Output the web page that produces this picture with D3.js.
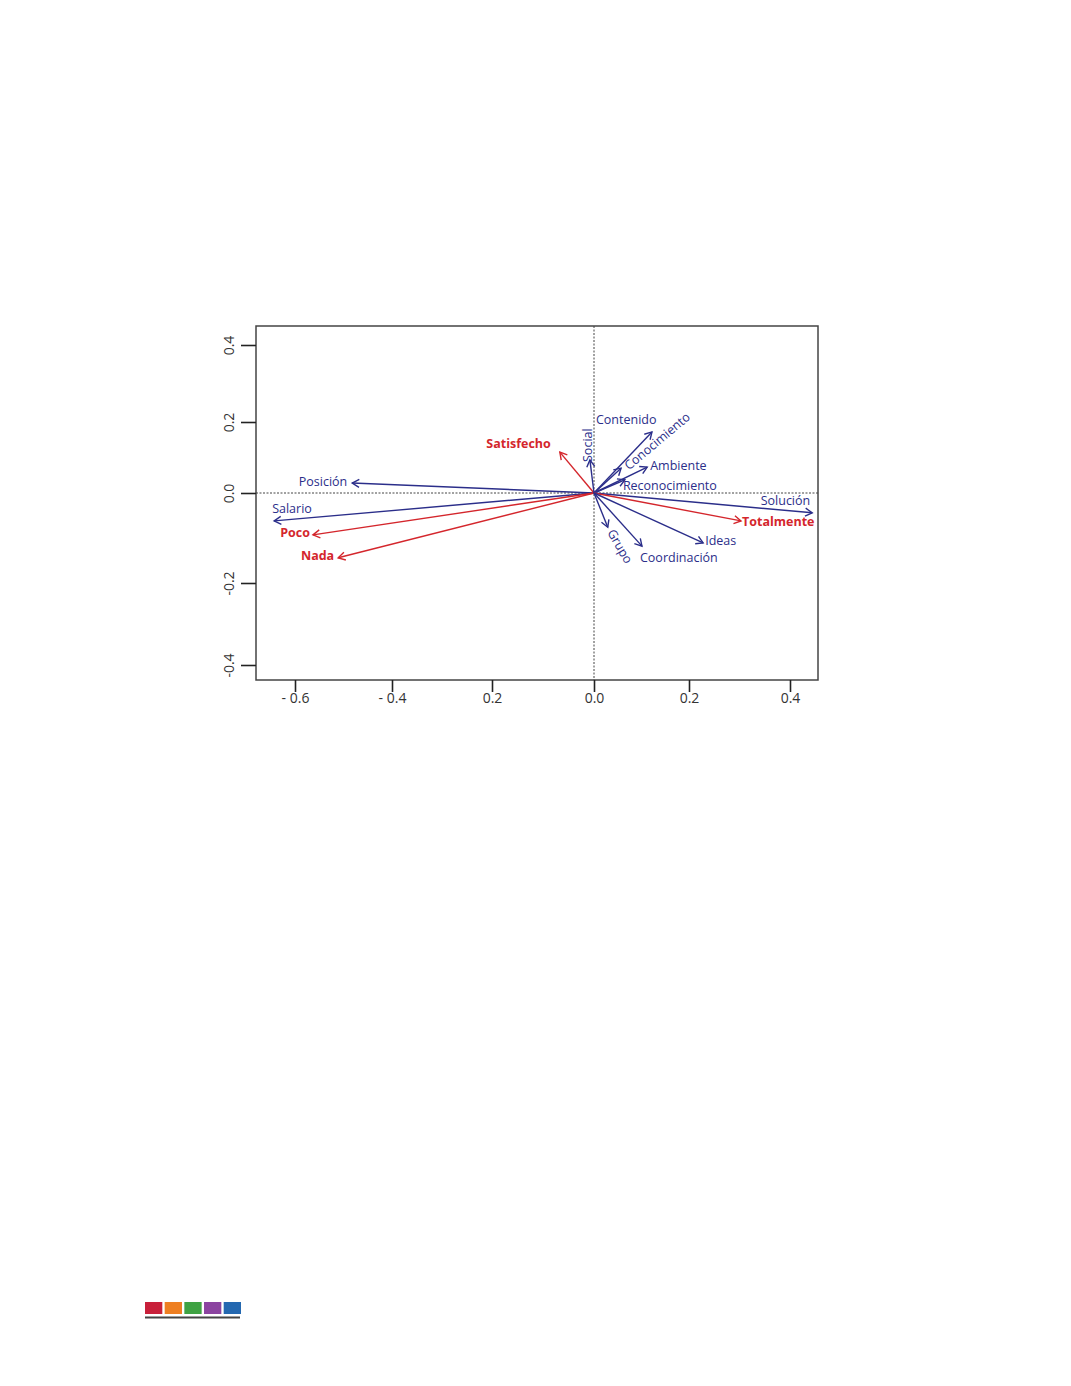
<!DOCTYPE html>
<html>
<head>
<meta charset="utf-8">
<script src="https://cdnjs.cloudflare.com/ajax/libs/d3/7.8.5/d3.min.js"></script>
<style>
  html, body { margin: 0; padding: 0; background: #fff; }
  svg { display: block; }
</style>
</head>
<body>
<svg id="chart" width="1071" height="1386"></svg>
<script>
// ---------- data ----------
const variables = ["Posición","Salario","Satisfecho","Poco","Nada","Social","Contenido","Conocimiento","Ambiente","Reconocimiento","Solución","Totalmente","Ideas","Coordinación","Grupo"];
const xValues   = [-0.482, -0.643, -0.067, -0.563, -0.511, -0.008, 0.122, 0.057, 0.112, 0.065, 0.444, 0.303, 0.228, 0.101, 0.029];
const yValues   = [ 0.028, -0.062,  0.115, -0.093, -0.144,  0.093, 0.172, 0.070, 0.073, 0.037, -0.044, -0.062, -0.111, -0.118, -0.076];
const groups    = ["v","v","c","c","c","v","v","v","v","v","v","c","v","v","v"]; // v = variable, c = category

const xTickValues = [-0.6, -0.4, -0.2, 0.0, 0.2, 0.4];
const xTickLabels = ["- 0.6", "- 0.4", "0.2", "0.0", "0.2", "0.4"];
const yTickValues = [-0.4, -0.2, 0.0, 0.2, 0.4];
const yTickLabels = ["-0.4", "-0.2", "0.0", "0.2", "0.4"];

const paletteBar = ["#c8203a", "#ee7f22", "#3fa243", "#8b44a0", "#2468b0"];

// ---------- label placement (style) ----------
const labelStyle = {
  "Posición":       {anchor:"end",   dx:-5, dy:-2,  rot:0},
  "Salario":        {anchor:"start", dx:-2, dy:-12, rot:0},
  "Satisfecho":     {anchor:"end",   dx:-9, dy:-9,  rot:0},
  "Poco":           {anchor:"end",   dx:-3, dy:-2,  rot:0},
  "Nada":           {anchor:"end",   dx:-4, dy:-2,  rot:0},
  "Social":         {anchor:"start", dx:-2, dy:2,   rot:-90},
  "Contenido":      {anchor:"start", dx:-56,dy:-12, rot:0},
  "Conocimiento":   {anchor:"start", dx:5,  dy:-1,  rot:-40},
  "Ambiente":       {anchor:"start", dx:3,  dy:-2,  rot:0},
  "Reconocimiento": {anchor:"start", dx:-2, dy:6,   rot:0},
  "Solución":       {anchor:"end",   dx:-2, dy:-12, rot:0},
  "Totalmente":     {anchor:"start", dx:1,  dy:1,   rot:0},
  "Ideas":          {anchor:"start", dx:2,  dy:-2,  rot:0},
  "Coordinación":   {anchor:"start", dx:-2, dy:11,  rot:0},
  "Grupo":          {anchor:"start", dx:3,  dy:3,   rot:60}
};

const BLUE = "#2b2e8a";
const RED  = "#d4262c";
const FONT = "'Open Sans', 'DejaVu Sans', sans-serif";

// ---------- layout ----------
const svg = d3.select("#chart");
const box = {left:256, right:818, top:326, bottom:680};

const x = d3.scaleLinear()
  .domain([-0.6, -0.4, -0.2, 0, 0.2, 0.4])
  .range([295, 392, 492, 594, 689, 790]);
const y = d3.scaleLinear()
  .domain([-0.4, -0.2, 0, 0.2, 0.4])
  .range([665, 583, 493, 422, 345]);

// reference lines (dotted)
svg.append("line")
  .attr("x1", box.left).attr("x2", box.right)
  .attr("y1", y(0)).attr("y2", y(0))
  .attr("stroke", "#444").attr("stroke-width", 1)
  .attr("stroke-dasharray", "2,1.5");
svg.append("line")
  .attr("x1", x(0)).attr("x2", x(0))
  .attr("y1", box.top).attr("y2", box.bottom)
  .attr("stroke", "#444").attr("stroke-width", 1)
  .attr("stroke-dasharray", "2,1.5");

// frame
svg.append("rect")
  .attr("x", box.left).attr("y", box.top)
  .attr("width", box.right - box.left).attr("height", box.bottom - box.top)
  .attr("fill", "none").attr("stroke", "#444").attr("stroke-width", 1.5);

// axes
const xAxis = d3.axisBottom(x)
  .tickValues(xTickValues)
  .tickSize(12)
  .tickFormat((d, i) => xTickLabels[i]);
const gx = svg.append("g")
  .attr("transform", `translate(0,${box.bottom})`)
  .call(xAxis);
gx.select(".domain").remove();
gx.selectAll(".tick line").attr("stroke", "#222").attr("stroke-width", 1.6);
gx.selectAll(".tick text")
  .attr("y", 13)
  .attr("fill", "#333")
  .style("font-family", FONT)
  .style("font-size", "14px");

const yAxis = d3.axisLeft(y)
  .tickValues(yTickValues)
  .tickSize(15)
  .tickFormat((d, i) => yTickLabels[i]);
const gy = svg.append("g")
  .attr("transform", `translate(${box.left},0)`)
  .call(yAxis);
gy.select(".domain").remove();
gy.selectAll(".tick line").attr("stroke", "#222").attr("stroke-width", 1.6);
gy.selectAll(".tick text")
  .attr("x", 0).attr("y", 0).attr("dy", null)
  .attr("text-anchor", "middle")
  .attr("dominant-baseline", "central")
  .attr("transform", "translate(-28,0) rotate(-90)")
  .attr("fill", "#333")
  .style("font-family", FONT)
  .style("font-size", "14px");

// arrows
const items = variables.map((name, i) => ({
  name, xv: xValues[i], yv: yValues[i], group: groups[i]
}));

const ox = x(0), oy = y(0);
const arrows = svg.append("g");
items.forEach(d => {
  const tx = x(d.xv), ty = y(d.yv);
  const col = d.group === "c" ? RED : BLUE;
  arrows.append("line")
    .attr("x1", ox).attr("y1", oy).attr("x2", tx).attr("y2", ty)
    .attr("stroke", col).attr("stroke-width", 1.4);
  const ang = Math.atan2(ty - oy, tx - ox);
  const L = 8, a = Math.PI / 6;
  const p1 = [tx - L * Math.cos(ang - a), ty - L * Math.sin(ang - a)];
  const p2 = [tx - L * Math.cos(ang + a), ty - L * Math.sin(ang + a)];
  arrows.append("path")
    .attr("d", `M${p1[0]},${p1[1]}L${tx},${ty}L${p2[0]},${p2[1]}`)
    .attr("fill", "none").attr("stroke", col).attr("stroke-width", 1.4)
    .attr("stroke-linejoin", "miter");
});

// labels
const labels = svg.append("g");
items.forEach(d => {
  const s = labelStyle[d.name];
  const px = x(d.xv) + s.dx, py = y(d.yv) + s.dy;
  labels.append("text")
    .attr("transform", `translate(${px},${py}) rotate(${s.rot})`)
    .attr("text-anchor", s.anchor)
    .attr("dominant-baseline", "central")
    .attr("fill", d.group === "c" ? RED : BLUE)
    .style("font-family", FONT)
    .style("font-size", "12.5px")
    .style("font-weight", d.group === "c" ? "bold" : "normal")
    .text(d.name);
});

// footer colour bar
const bx = d3.scaleBand().domain(d3.range(paletteBar.length)).range([145, 241]).paddingInner(0.12);
svg.append("g").selectAll("rect")
  .data(paletteBar)
  .join("rect")
  .attr("x", (d, i) => bx(i))
  .attr("y", 1302)
  .attr("width", bx.bandwidth())
  .attr("height", 12)
  .attr("fill", d => d);
svg.append("line")
  .attr("x1", 145).attr("x2", 240)
  .attr("y1", 1317.5).attr("y2", 1317.5)
  .attr("stroke", "#444").attr("stroke-width", 2);
</script>
</body>
</html>
